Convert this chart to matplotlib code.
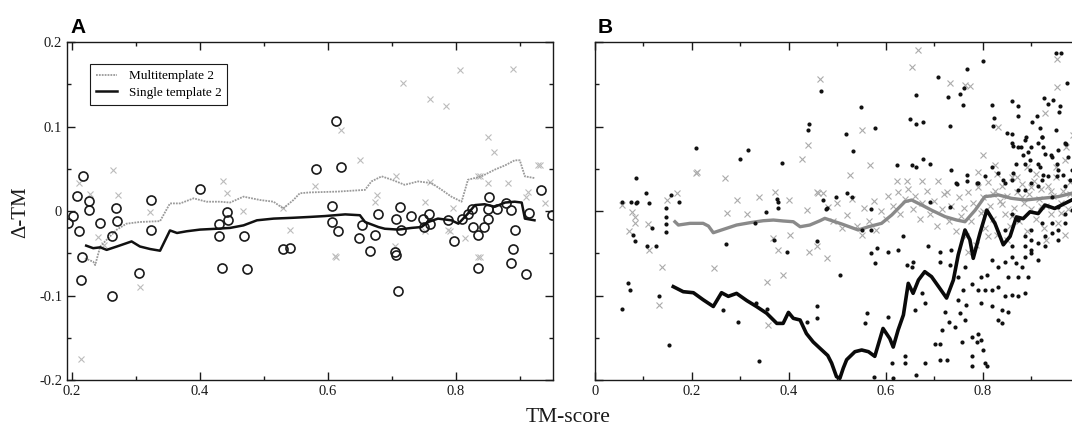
import matplotlib
matplotlib.use("Agg")
import matplotlib.pyplot as plt
from matplotlib.ticker import MultipleLocator, FuncFormatter

# ---------------- panel A data ----------------
a_multi_line = [(0.220, -0.056), (0.233, -0.060), (0.236, -0.064), (0.244, -0.042), (0.254, -0.034),
                (0.270, -0.022), (0.285, -0.015), (0.306, -0.013), (0.3375, -0.012), (0.353, 0.009),
                (0.369, 0.009), (0.390, 0.015), (0.410, 0.011), (0.431, 0.011), (0.447, 0.010),
                (0.468, 0.017), (0.494, 0.013), (0.515, 0.011), (0.530, 0.003), (0.546, 0.013),
                (0.556, 0.021), (0.572, 0.022), (0.616, 0.023), (0.658, 0.025), (0.668, 0.035),
                (0.684, 0.041), (0.700, 0.037), (0.720, 0.031), (0.741, 0.035), (0.762, 0.033),
                (0.778, 0.025), (0.793, 0.017), (0.809, 0.011), (0.819, 0.037), (0.840, 0.041),
                (0.861, 0.049), (0.877, 0.054), (0.892, 0.060), (0.900, 0.060), (0.908, 0.041),
                (0.923, 0.039)]

a_single_line = [(0.222, -0.041), (0.233, -0.044), (0.244, -0.043), (0.254, -0.046), (0.270, -0.042),
                 (0.293, -0.036), (0.306, -0.042), (0.322, -0.045), (0.3375, -0.047), (0.353, -0.023),
                 (0.364, -0.026), (0.379, -0.024), (0.400, -0.022), (0.426, -0.021), (0.447, -0.020),
                 (0.468, -0.017), (0.489, -0.011), (0.515, -0.009), (0.546, -0.008), (0.572, -0.007),
                 (0.595, -0.006), (0.627, -0.004), (0.650, -0.005), (0.658, -0.013), (0.679, -0.019),
                 (0.689, -0.021), (0.710, -0.022), (0.731, -0.020), (0.746, -0.019), (0.757, -0.013),
                 (0.772, -0.009), (0.793, -0.011), (0.804, -0.015), (0.819, -0.003), (0.830, 0.007),
                 (0.845, 0.008), (0.861, 0.005), (0.877, 0.010), (0.892, 0.011), (0.903, 0.010),
                 (0.908, -0.009), (0.923, -0.011)]

a_circles = [(0.217, 0.041), (0.207, 0.018), (0.226, 0.012), (0.227, 0.001), (0.202, -0.006),
             (0.194, -0.014), (0.211, -0.024), (0.243, -0.014), (0.269, 0.004), (0.270, -0.012),
             (0.263, -0.030), (0.215, -0.055), (0.214, -0.082), (0.262, -0.100), (0.304, -0.073),
             (0.323, 0.013), (0.324, -0.022), (0.400, 0.026), (0.442, -0.001), (0.443, -0.011),
             (0.430, -0.015), (0.429, -0.030), (0.468, -0.030), (0.435, -0.068), (0.473, -0.069),
             (0.529, -0.045), (0.540, -0.044), (0.6125, 0.107), (0.581, 0.050), (0.620, 0.052),
             (0.607, 0.006), (0.606, -0.013), (0.616, -0.024), (0.648, -0.032), (0.654, -0.017),
             (0.673, -0.028), (0.678, -0.004), (0.666, -0.047), (0.705, -0.048), (0.706, -0.052),
             (0.710, -0.095), (0.715, -0.022), (0.706, -0.009), (0.712, 0.005), (0.730, -0.006),
             (0.749, -0.010), (0.758, -0.003), (0.759, -0.015), (0.750, -0.019), (0.787, -0.011),
             (0.797, -0.036), (0.809, -0.009), (0.819, -0.003), (0.825, 0.002), (0.827, -0.019),
             (0.834, -0.028), (0.844, -0.019), (0.851, -0.009), (0.852, 0.017), (0.851, 0.002),
             (0.865, 0.002), (0.879, 0.009), (0.887, 0.001), (0.914, -0.002), (0.933, 0.025),
             (0.950, -0.005), (0.892, -0.023), (0.890, -0.045), (0.886, -0.062), (0.910, -0.074),
             (0.835, -0.067)]

a_crosses = [(0.264, 0.049), (0.272, 0.019), (0.322, -0.001), (0.241, -0.031), (0.306, -0.090),
             (0.436, 0.035), (0.442, 0.021), (0.467, 0.000), (0.530, 0.004), (0.540, -0.022),
             (0.210, 0.033), (0.214, -0.175), (0.717, 0.152), (0.759, 0.133), (0.785, 0.124),
             (0.850, 0.088), (0.890, 0.168), (0.806, 0.167), (0.621, 0.096), (0.8375, 0.041),
             (0.707, 0.041), (0.676, 0.019), (0.759, 0.034), (0.796, 0.003), (0.910, 0.017),
             (0.931, 0.054), (0.6125, -0.055), (0.752, -0.024), (0.791, -0.024), (0.8375, -0.054),
             (0.674, 0.011), (0.705, -0.042), (0.752, 0.011), (0.788, -0.022), (0.835, 0.041),
             (0.850, 0.033), (0.882, 0.033), (0.913, 0.023), (0.814, -0.032), (0.835, -0.054),
             (0.611, -0.053), (0.929, 0.054), (0.228, 0.020), (0.250, -0.040), (0.580, 0.030),
             (0.650, 0.060), (0.860, 0.070), (0.940, 0.010)]

# ---------------- panel B data ----------------
b_multi_line = [(0.165, -0.0127), (0.172, -0.0166), (0.196, -0.0146), (0.223, -0.0146), (0.234, -0.0178),
                (0.244, -0.0257), (0.265, -0.0217), (0.292, -0.0166), (0.320, -0.0138), (0.347, -0.0115),
                (0.368, -0.0107), (0.388, -0.0118), (0.409, -0.0127), (0.423, -0.0186), (0.443, -0.0166),
                (0.464, -0.0115), (0.474, -0.0087), (0.509, -0.0154), (0.543, -0.0225), (0.564, -0.0186),
                (0.591, -0.0146), (0.612, -0.0047), (0.639, 0.011), (0.653, 0.013), (0.674, 0.007),
                (0.694, 0.001), (0.722, -0.0067), (0.746, -0.0107), (0.763, -0.0127), (0.784, 0.001),
                (0.804, 0.017), (0.832, 0.019), (0.859, 0.015), (0.887, 0.013), (0.921, 0.015),
                (0.955, 0.017), (0.983, 0.021)]

b_single_line = [(0.1615, -0.0895), (0.182, -0.0955), (0.203, -0.0967), (0.223, -0.105), (0.244, -0.113),
                 (0.261, -0.0967), (0.275, -0.101), (0.292, -0.0975), (0.313, -0.106), (0.333, -0.113),
                 (0.354, -0.121), (0.375, -0.133), (0.388, -0.133), (0.399, -0.120), (0.409, -0.127),
                 (0.423, -0.129), (0.436, -0.145), (0.450, -0.155), (0.464, -0.1625), (0.480, -0.171),
                 (0.488, -0.180), (0.498, -0.196), (0.505, -0.198), (0.512, -0.186), (0.519, -0.176),
                 (0.536, -0.1665), (0.550, -0.1645), (0.564, -0.1665), (0.577, -0.172), (0.594, -0.139),
                 (0.608, -0.151), (0.615, -0.161), (0.625, -0.141), (0.636, -0.123), (0.646, -0.0856),
                 (0.656, -0.0974), (0.667, -0.0817), (0.680, -0.0718), (0.694, -0.0777), (0.711, -0.0915),
                 (0.725, -0.103), (0.739, -0.0817), (0.749, -0.052), (0.763, -0.0225), (0.773, -0.034),
                 (0.780, -0.056), (0.794, -0.026), (0.808, 0.001), (0.825, -0.015), (0.842, -0.040),
                 (0.856, -0.030), (0.869, -0.007), (0.883, -0.009), (0.897, -0.001), (0.914, -0.003),
                 (0.928, 0.007), (0.948, 0.003), (0.969, 0.009), (0.983, 0.013)]

b_dots = [(0.084, 0.039), (0.105, 0.021), (0.074, 0.011), (0.085, 0.010), (0.111, 0.010),
          (0.156, 0.019), (0.146, 0.003), (0.174, 0.011), (0.208, 0.075), (0.315, 0.072),
          (0.300, 0.061), (0.386, 0.057), (0.376, 0.014), (0.353, -0.001), (0.442, 0.103),
          (0.440, 0.096), (0.466, 0.142), (0.476, 0.002), (0.548, 0.123), (0.577, 0.098),
          (0.518, 0.091), (0.533, 0.071), (0.623, 0.054), (0.653, 0.054), (0.662, 0.052),
          (0.663, 0.103), (0.676, 0.105), (0.649, 0.109), (0.677, 0.062), (0.691, 0.056),
          (0.663, 0.137), (0.708, 0.158), (0.727, 0.135), (0.753, 0.138), (0.760, 0.146),
          (0.767, 0.168), (0.758, 0.125), (0.733, 0.101), (0.801, 0.178), (0.818, 0.125),
          (0.823, 0.110), (0.820, 0.101), (0.859, 0.130), (0.873, 0.124), (0.873, 0.112),
          (0.849, 0.092), (0.859, 0.091), (0.862, 0.077), (0.878, 0.076), (0.889, 0.088),
          (0.902, 0.105), (0.912, 0.112), (0.926, 0.134), (0.945, 0.131), (0.935, 0.127),
          (0.957, 0.117), (0.959, 0.124), (0.951, 0.187), (0.960, 0.187), (0.974, 0.152),
          (0.918, 0.098), (0.921, 0.088), (0.924, 0.076), (0.893, 0.070), (0.883, 0.066),
          (0.897, 0.060), (0.869, 0.056), (0.952, 0.056), (0.940, 0.066), (0.971, 0.079),
          (0.951, 0.096), (0.735, 0.0485), (0.768, 0.043), (0.744, 0.0335), (0.767, 0.035),
          (0.787, 0.033), (0.842, 0.037), (0.862, 0.0445), (0.897, 0.0485), (0.918, 0.052),
          (0.924, 0.043), (0.952, 0.041), (0.966, 0.043), (0.979, 0.037), (0.498, 0.017),
          (0.519, 0.021), (0.531, 0.017), (0.478, 0.003), (0.691, 0.011), (0.732, 0.005),
          (0.746, 0.032), (0.055, 0.011), (0.086, 0.011), (0.146, -0.0067), (0.146, -0.0154),
          (0.146, -0.0245), (0.079, -0.028), (0.082, -0.036), (0.118, -0.0205), (0.126, -0.042),
          (0.107, -0.042), (0.069, -0.085), (0.072, -0.093), (0.133, -0.101), (0.056, -0.116),
          (0.153, -0.159), (0.270, -0.039), (0.265, -0.117), (0.295, -0.131), (0.339, -0.178),
          (0.397, -0.048), (0.457, -0.036), (0.457, -0.112), (0.457, -0.127), (0.438, -0.131),
          (0.378, 0.011), (0.378, 0.004), (0.331, -0.014), (0.370, -0.034), (0.471, 0.013),
          (0.333, -0.1085), (0.355, -0.116), (0.570, 0.002), (0.550, -0.022), (0.570, -0.022),
          (0.570, -0.050), (0.581, -0.044), (0.605, -0.048), (0.625, -0.046), (0.577, -0.062),
          (0.505, -0.076), (0.636, -0.030), (0.643, -0.064), (0.656, -0.060), (0.687, -0.042),
          (0.711, -0.048), (0.711, -0.060), (0.732, -0.064), (0.735, -0.046), (0.749, -0.078),
          (0.763, -0.066), (0.777, -0.086), (0.797, -0.078), (0.808, -0.076), (0.818, -0.058),
          (0.832, -0.066), (0.845, -0.060), (0.859, -0.054), (0.869, -0.062), (0.880, -0.066),
          (0.887, -0.054), (0.900, -0.050), (0.914, -0.058), (0.893, -0.078), (0.873, -0.078),
          (0.852, -0.078), (0.832, -0.090), (0.818, -0.093), (0.845, -0.101), (0.859, -0.099),
          (0.873, -0.101), (0.887, -0.097), (0.839, -0.117), (0.852, -0.119), (0.832, -0.129),
          (0.839, -0.133), (0.818, -0.113), (0.797, -0.109), (0.804, -0.093), (0.790, -0.093),
          (0.759, -0.093), (0.766, -0.111), (0.749, -0.105), (0.753, -0.121), (0.763, -0.129),
          (0.742, -0.137), (0.722, -0.119), (0.729, -0.131), (0.715, -0.141), (0.756, -0.155),
          (0.777, -0.149), (0.790, -0.145), (0.787, -0.155), (0.797, -0.153), (0.801, -0.1645),
          (0.777, -0.172), (0.701, -0.157), (0.711, -0.157), (0.725, -0.176), (0.711, -0.176),
          (0.680, -0.180), (0.639, -0.172), (0.639, -0.180), (0.660, -0.117), (0.680, -0.109),
          (0.674, -0.097), (0.653, -0.066), (0.605, -0.125), (0.560, -0.121), (0.557, -0.133),
          (0.612, -0.180), (0.777, -0.184), (0.804, -0.180), (0.808, -0.184), (0.576, -0.196),
          (0.615, -0.198), (0.663, -0.194), (0.859, 0.080), (0.873, 0.076), (0.887, 0.084),
          (0.900, 0.076), (0.914, 0.080), (0.921, 0.088), (0.928, 0.068), (0.942, 0.064),
          (0.955, 0.072), (0.969, 0.080), (0.976, 0.064), (0.955, 0.0485), (0.935, 0.041),
          (0.921, 0.037), (0.900, 0.033), (0.887, 0.025), (0.873, 0.025), (0.859, 0.037),
          (0.845, 0.033), (0.832, 0.0445), (0.818, 0.052), (0.804, 0.041), (0.790, 0.033),
          (0.887, -0.030), (0.900, -0.034), (0.914, -0.038), (0.928, -0.030), (0.942, -0.026),
          (0.955, -0.022), (0.955, -0.034), (0.942, -0.0146), (0.921, -0.0146), (0.900, -0.022),
          (0.873, -0.0107), (0.859, -0.003), (0.845, -0.022), (0.900, -0.046), (0.928, -0.042),
          (0.969, -0.003), (0.983, 0.001), (0.955, 0.005), (0.969, -0.0146), (0.859, -0.042),
          (0.887, -0.042), (0.914, 0.029), (0.942, 0.017), (0.969, 0.029), (0.983, 0.0485),
          (0.887, 0.056), (0.914, 0.056)]

b_crosses = [(0.055, 0.007), (0.076, -0.001), (0.082, -0.007), (0.082, -0.0146), (0.071, -0.024),
             (0.110, -0.015), (0.112, -0.046), (0.148, 0.013), (0.170, 0.021), (0.1375, -0.066),
             (0.133, -0.111), (0.208, 0.045), (0.245, -0.068), (0.268, 0.039), (0.272, -0.002),
             (0.292, 0.013), (0.313, -0.003), (0.339, 0.017), (0.354, -0.0835), (0.357, -0.135),
             (0.368, -0.032), (0.371, 0.023), (0.400, 0.013), (0.402, -0.028), (0.377, -0.046),
             (0.442, -0.048), (0.460, 0.021), (0.471, 0.021), (0.478, -0.056), (0.457, -0.042),
             (0.437, 0.001), (0.388, -0.076), (0.463, 0.156), (0.210, 0.046), (0.427, 0.061),
             (0.440, 0.078), (0.667, 0.190), (0.653, 0.171), (0.550, 0.096), (0.763, 0.149),
             (0.732, 0.151), (0.773, 0.148), (0.953, 0.180), (0.832, 0.100), (0.801, 0.066),
             (0.825, 0.054), (0.928, 0.116), (0.952, 0.147), (0.971, 0.076), (0.567, 0.054),
             (0.526, 0.043), (0.622, 0.035), (0.643, 0.035), (0.674, 0.035), (0.708, 0.035),
             (0.725, 0.023), (0.457, 0.023),
             (0.48, 0.005), (0.49, -0.012), (0.50, 0.010), (0.51, -0.020), (0.52, -0.005),
             (0.53, 0.014), (0.54, -0.018), (0.55, -0.028), (0.555, 0.004), (0.565, -0.012),
             (0.575, 0.012), (0.58, -0.022), (0.59, 0.000), (0.60, -0.010), (0.605, 0.018),
             (0.615, 0.006), (0.625, 0.022), (0.63, -0.004), (0.64, 0.014), (0.645, 0.026),
             (0.655, 0.002), (0.66, 0.018), (0.67, -0.010), (0.675, 0.010), (0.685, 0.024),
             (0.69, -0.004), (0.70, 0.012), (0.705, -0.018), (0.715, 0.002), (0.72, 0.020),
             (0.73, -0.012), (0.735, 0.006), (0.745, -0.024), (0.75, 0.016), (0.755, -0.006),
             (0.76, 0.004), (0.765, -0.030), (0.77, 0.022), (0.775, -0.012), (0.78, 0.010),
             (0.785, -0.040), (0.79, 0.028), (0.795, -0.002), (0.80, 0.016), (0.805, -0.020),
             (0.81, 0.034), (0.815, 0.006), (0.82, -0.010), (0.825, 0.024), (0.83, -0.028),
             (0.835, 0.012), (0.84, 0.030), (0.845, -0.004), (0.85, 0.018), (0.855, -0.018),
             (0.86, 0.040), (0.865, 0.004), (0.87, 0.022), (0.875, -0.012), (0.88, 0.032),
             (0.885, 0.010), (0.89, -0.024), (0.895, 0.020), (0.90, 0.002), (0.905, 0.036),
             (0.91, -0.010), (0.915, 0.014), (0.92, 0.026), (0.925, -0.020), (0.93, 0.006),
             (0.935, 0.030), (0.94, -0.004), (0.945, 0.018), (0.95, 0.040), (0.955, -0.014),
             (0.96, 0.010), (0.965, 0.024), (0.97, -0.028), (0.975, 0.002), (0.98, 0.034),
             (0.985, 0.016), (0.99, -0.008), (0.995, 0.026),
             (0.80, 0.000), (0.82, 0.020), (0.84, 0.008), (0.86, -0.006), (0.88, 0.016),
             (0.90, 0.028), (0.92, 0.006), (0.94, 0.024), (0.96, -0.002), (0.98, 0.020),
             (0.87, 0.040), (0.91, 0.044), (0.95, 0.052), (0.99, 0.048), (0.93, -0.034),
             (0.97, 0.060), (0.89, 0.052), (0.83, 0.044), (0.85, -0.034), (0.81, -0.030),
             (0.79, 0.046), (0.77, -0.048), (0.99, 0.070), (0.985, 0.090)]

a_xticks = [0.2, 0.4, 0.6, 0.8]
b_xticks = [0, 0.2, 0.4, 0.6, 0.8]
y_ticks = [-0.2, -0.1, 0, 0.1, 0.2]


def xs(pts):
    return [p[0] for p in pts]


def ys(pts):
    return [p[1] for p in pts]


plt.rcParams['font.family'] = ['Liberation Serif', 'DejaVu Serif']
ink = '#1a1a1a'

fig = plt.figure(figsize=(10.72, 4.29), dpi=100)
axA = fig.add_axes([0.0625, 0.1142, 0.4534, 0.7879])
axB = fig.add_axes([0.555, 0.1142, 0.4524, 0.7879])


def tickfmt(v, pos):
    # xmgrace style: plain "0" at zero
    if abs(v) < 1e-9:
        return '0'
    return '%g' % v


for ax in (axA, axB):
    ax.set_ylim(-0.2, 0.2)
    ax.yaxis.set_major_locator(MultipleLocator(0.1))
    ax.yaxis.set_minor_locator(MultipleLocator(0.05))
    ax.tick_params(which='both', direction='in', top=True, right=True, colors=ink,
                   labelsize=10.5, width=1.0)
    ax.tick_params(which='major', length=5.5, pad=3.5)
    ax.tick_params(which='minor', length=3)
    for s in ax.spines.values():
        s.set_linewidth(1.0)
        s.set_color(ink)
    ax.xaxis.set_major_formatter(FuncFormatter(tickfmt))

# ---- panel A ----
axA.set_xlim(0.192, 0.952)
axA.set_xticks(a_xticks)
axA.xaxis.set_minor_locator(MultipleLocator(0.1))
axA.set_yticks(y_ticks)
axA.yaxis.set_major_formatter(FuncFormatter(tickfmt))

axA.plot(xs(a_crosses), ys(a_crosses), 'x', color='#bcbcbc', ms=5, mew=0.8, zorder=1)
axA.plot(xs(a_circles), ys(a_circles), 'o', mfc='none', mec=ink, ms=6.5, mew=1.2, zorder=3)
axA.plot(xs(a_multi_line), ys(a_multi_line), color='#9a9a9a', lw=1.3, ls=(0, (1, 0.6)),
         label='Multitemplate 2', zorder=2)
axA.plot(xs(a_single_line), ys(a_single_line), color='#111111', lw=1.8,
         label='Single template 2', zorder=4)

leg = axA.legend(loc='upper left', bbox_to_anchor=(0.047, 0.935), borderaxespad=0,
                 fontsize=9.5, handlelength=1.6, handletextpad=0.9, labelspacing=0.35,
                 borderpad=0.45, fancybox=False, framealpha=1, edgecolor=ink)
leg.get_frame().set_linewidth(0.8)

# ---- panel B ----
axB.set_xlim(0, 1.0)
axB.set_xticks(b_xticks)
axB.xaxis.set_minor_locator(MultipleLocator(0.1))
axB.set_yticks(y_ticks)
axB.tick_params(labelleft=False)

axB.plot(xs(b_crosses), ys(b_crosses), 'x', color='#ababab', ms=4.5, mew=0.8, zorder=1)
axB.plot(xs(b_multi_line), ys(b_multi_line), color='#8a8a8a', lw=2.4, zorder=2)
axB.plot(xs(b_dots), ys(b_dots), 'o', color='#111111', ms=3, mew=0, zorder=3)
axB.plot(xs(b_single_line), ys(b_single_line), color='#0a0a0a', lw=2.6, zorder=4)

# ---- labels ----
fig.text(70 / 1072, 1 - 33 / 429, 'A', family=['Liberation Sans', 'DejaVu Sans'],
         fontweight='bold', fontsize=15, color='black', ha='left', va='baseline')
fig.text(598 / 1072, 1 - 33 / 429, 'B', family=['Liberation Sans', 'DejaVu Sans'],
         fontweight='bold', fontsize=15, color='black', ha='left', va='baseline')
fig.text(21 / 1072, 1 - 212 / 429, '\u0394-TM', rotation=90, fontsize=15, color=ink,
         ha='center', va='center')
fig.text(568 / 1072, 1 - 417 / 429, 'TM-score', fontsize=15.5, color=ink,
         ha='center', va='center')

fig.savefig('out.png', dpi=100)
